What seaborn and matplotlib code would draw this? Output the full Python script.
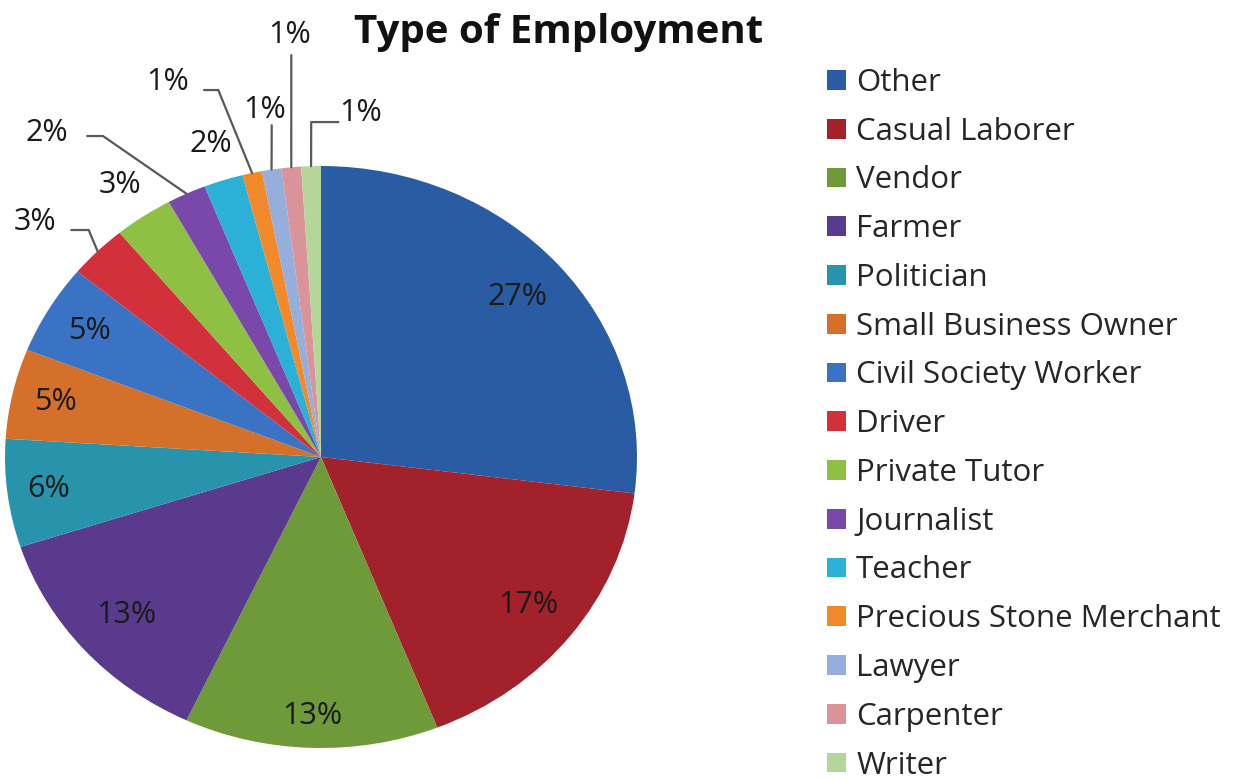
import numpy as np
import matplotlib
matplotlib.use("Agg")
import matplotlib.pyplot as plt
import seaborn as sns
from matplotlib.patches import Patch

# data
jobs = ['Other', 'Casual Laborer', 'Vendor', 'Farmer', 'Politician',
        'Small Business Owner', 'Civil Society Worker', 'Driver',
        'Private Tutor', 'Journalist', 'Teacher', 'Precious Stone Merchant',
        'Lawyer', 'Carpenter', 'Writer']
pct = [27, 17, 13, 13, 6, 5, 5, 3, 3, 2, 2, 1, 1, 1, 1]
colors = ['#2A5CA3', '#A3212B', '#6E9A3A', '#5A3A8C', '#2794AC',
          '#D5702A', '#3B73C4', '#D2303A', '#8DC043', '#7A48AA',
          '#2BB1D8', '#F2892A', '#95AEDC', '#DA9499', '#B5D69A']

sns.set_theme(style='white')
plt.rcParams['font.family'] = ['Open Sans', 'DejaVu Sans']

W, H = 1251, 781
fig = plt.figure(figsize=(W / 100, H / 100), dpi=100)
# pie is slightly squashed in the picture, so axes box is not square
cx, cy, rx, ry = 321, 457, 316, 291
ax = fig.add_axes([(cx - rx) / W, (H - cy - ry) / H, 2 * rx / W, 2 * ry / H])
wedges, _ = ax.pie(pct, colors=colors, startangle=90, counterclock=False,
                   radius=1, wedgeprops=dict(linewidth=0))
ax.set_aspect('auto')
ax.set_xlim(-1, 1)
ax.set_ylim(-1, 1)

mids = [np.deg2rad((w.theta1 + w.theta2) / 2) for w in wedges]

# inside / near labels: radial distance per slice (None = leader label)
rad = [0.83, 0.83, 0.89, 0.82, 0.87, 0.86, 0.85, None, 1.13, None, 1.13,
       None, None, None, None]
# leader labels: text position and elbow point (axes data units)
leaders = {
    7: ((-0.905, 0.808), [(-0.79, 0.780), (-0.735, 0.780)]),
    9: ((-0.867, 1.113), [(-0.74, 1.103), (-0.69, 1.103)]),
    11: ((-0.484, 1.289), [(-0.37, 1.261), (-0.325, 1.261)]),
    12: ((-0.180, 1.192), [(-0.156, 1.14)]),
    13: ((-0.098, 1.450), [(-0.094, 1.381)]),
    14: ((0.125, 1.182), [(0.055, 1.151), (-0.031, 1.151)]),
}

for i, p in enumerate(pct):
    lab = f'{p}%'
    a = mids[i]
    if rad[i] is not None:
        ax.text(rad[i] * np.cos(a), rad[i] * np.sin(a), lab, ha='center',
                va='center', fontsize=22, color='#1a1a1a')
    else:
        (tx, ty), elbow = leaders[i]
        ax.text(tx, ty, lab, ha='center', va='center', fontsize=22,
                color='#1a1a1a')
        pts = elbow + [(np.cos(a), np.sin(a))]
        xs, ys = zip(*pts)
        ax.plot(xs, ys, color='#595959', lw=1.6, clip_on=False)

fig.text(559 / W, 1 - 32 / H, 'Type of Employment', ha='center',
         va='center', fontsize=29, fontweight='bold', color='#111111')

handles = [Patch(facecolor=c, edgecolor='none') for c in colors]
fig.legend(handles, jobs, loc='upper left', bbox_to_anchor=(827 / W, 1 - 68 / H),
           frameon=False, fontsize=22.5, handlelength=0.6, handleheight=0.6,
           handletextpad=0.33, labelspacing=0.6, borderaxespad=0,
           borderpad=0)

fig.savefig('out.png', dpi=100, facecolor='white')
